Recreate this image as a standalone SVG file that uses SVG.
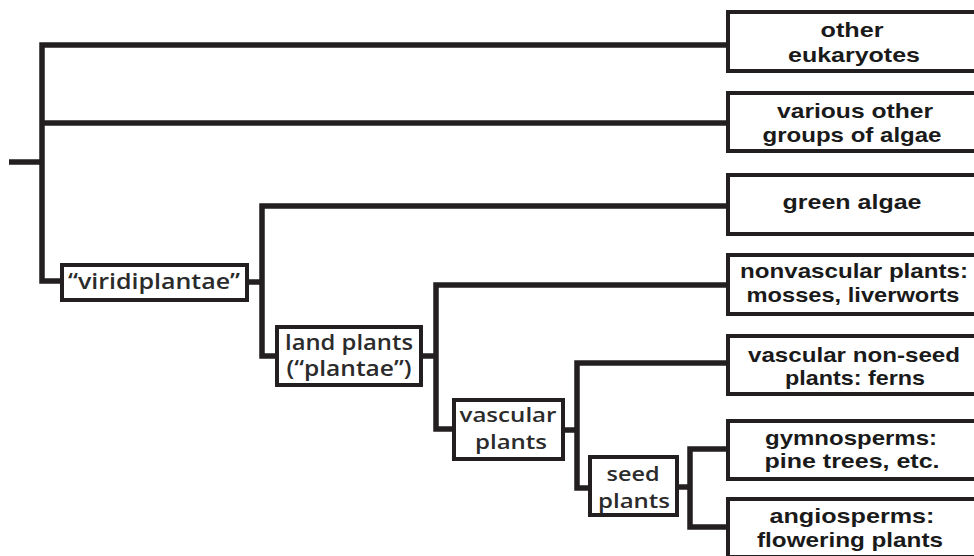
<svg xmlns="http://www.w3.org/2000/svg" width="974" height="556" viewBox="0 0 974 556">
<style>
.ln{fill:none;stroke:#231f20;stroke-width:5.5;stroke-linejoin:miter;stroke-linecap:butt}
.bx{fill:#fff;stroke:#231f20;stroke-width:4}
.lt{font-family:"Open Sans","Noto Sans",sans-serif;font-weight:600;font-size:21px;fill:#2b2b2b;text-anchor:middle}
.ls{font-size:20px}
.rt{font-family:"Liberation Sans",Arial,sans-serif;font-weight:bold;font-size:21px;fill:#1a1a1a;text-anchor:middle}
</style>
<rect width="974" height="556" fill="#fff"/>
<g id="connectors">
<path class="ln" d="M9 162H42"/>
<path class="ln" d="M726 45H42V281H60"/>
<path class="ln" d="M42 123H726"/>
<path class="ln" d="M249 282H262"/>
<path class="ln" d="M726 206H262V356H275"/>
<path class="ln" d="M423 356H436"/>
<path class="ln" d="M726 285H436V429H452"/>
<path class="ln" d="M565 430H577"/>
<path class="ln" d="M726 363H577V488H588"/>
<path class="ln" d="M679 487H690"/>
<path class="ln" d="M726 449H690V527H726"/>
</g>
<g id="viridiplantae">
<rect class="bx" x="62" y="265" width="185" height="35"/>
<text class="lt" x="154" y="289" textLength="172" lengthAdjust="spacingAndGlyphs">“viridiplantae”</text>
</g>
<g id="land-plants">
<rect class="bx" x="277" y="327" width="144" height="58"/>
<text class="lt" x="349" y="350" textLength="128" lengthAdjust="spacingAndGlyphs">land plants</text>
<text class="lt" x="349" y="376" textLength="125" lengthAdjust="spacingAndGlyphs">(“plantae”)</text>
</g>
<g id="vascular-plants">
<rect class="bx" x="454" y="400" width="109" height="59"/>
<text class="lt ls" x="508" y="422" textLength="97" lengthAdjust="spacingAndGlyphs">vascular</text>
<text class="lt ls" x="511" y="449" textLength="72" lengthAdjust="spacingAndGlyphs">plants</text>
</g>
<g id="seed-plants">
<rect class="bx" x="590" y="457" width="87" height="58"/>
<text class="lt ls" x="633" y="481" textLength="53" lengthAdjust="spacingAndGlyphs">seed</text>
<text class="lt ls" x="634" y="508" textLength="72" lengthAdjust="spacingAndGlyphs">plants</text>
</g>
<g id="other-eukaryotes">
<rect class="bx" x="728" y="12" width="260" height="59"/>
<text class="rt" x="852" y="37" textLength="63" lengthAdjust="spacingAndGlyphs">other</text>
<text class="rt" x="854" y="62" textLength="132" lengthAdjust="spacingAndGlyphs">eukaryotes</text>
</g>
<g id="other-algae">
<rect class="bx" x="728" y="93" width="260" height="58"/>
<text class="rt" x="855" y="118" textLength="156" lengthAdjust="spacingAndGlyphs">various other</text>
<text class="rt" x="852" y="142" textLength="179" lengthAdjust="spacingAndGlyphs">groups of algae</text>
</g>
<g id="green-algae">
<rect class="bx" x="728" y="175" width="260" height="59"/>
<text class="rt" x="852" y="209" textLength="139" lengthAdjust="spacingAndGlyphs">green algae</text>
</g>
<g id="nonvascular">
<rect class="bx" x="728" y="255" width="260" height="59"/>
<text class="rt" x="854" y="278" textLength="228" lengthAdjust="spacingAndGlyphs">nonvascular plants:</text>
<text class="rt" x="853" y="302" textLength="213" lengthAdjust="spacingAndGlyphs">mosses, liverworts</text>
</g>
<g id="ferns">
<rect class="bx" x="728" y="336" width="260" height="58"/>
<text class="rt" x="854" y="362" textLength="212" lengthAdjust="spacingAndGlyphs">vascular non-seed</text>
<text class="rt" x="855" y="385" textLength="140" lengthAdjust="spacingAndGlyphs">plants: ferns</text>
</g>
<g id="gymnosperms">
<rect class="bx" x="728" y="421" width="260" height="58"/>
<text class="rt" x="851" y="445" textLength="172" lengthAdjust="spacingAndGlyphs">gymnosperms:</text>
<text class="rt" x="852" y="468" textLength="175" lengthAdjust="spacingAndGlyphs">pine trees, etc.</text>
</g>
<g id="angiosperms">
<rect class="bx" x="728" y="499" width="260" height="58"/>
<text class="rt" x="852" y="523" textLength="165" lengthAdjust="spacingAndGlyphs">angiosperms:</text>
<text class="rt" x="850" y="547" textLength="186" lengthAdjust="spacingAndGlyphs">flowering plants</text>
</g>
</svg>
